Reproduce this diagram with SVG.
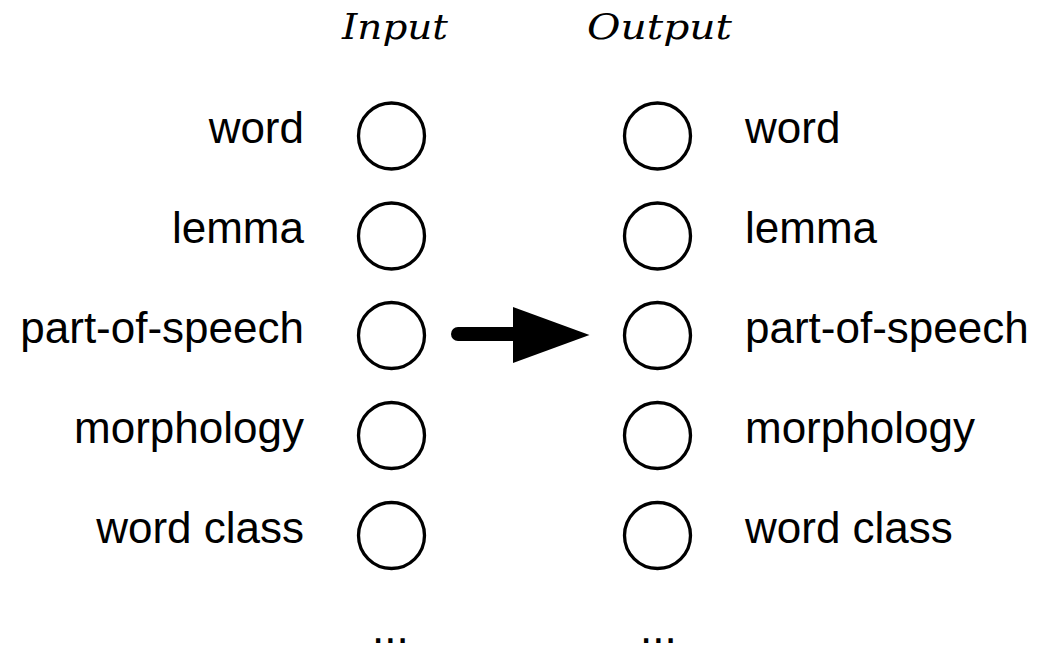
<svg xmlns="http://www.w3.org/2000/svg" width="1037" height="647" viewBox="0 0 1037 647">
<style>
.node{fill:#fff;stroke:#000;stroke-width:3.3}
.lbl{font-family:"Liberation Sans",Arial,sans-serif;font-size:44px;fill:#000}
.l{text-anchor:end}
.r{text-anchor:start}
.hdr{font-family:"DejaVu Serif","Liberation Serif",serif;font-style:italic;font-size:36px;fill:#000}
</style>
<rect width="1037" height="647" fill="#fff"/>
<text class="hdr" x="342" y="39" textLength="106" lengthAdjust="spacingAndGlyphs">Input</text>
<text class="hdr" x="587" y="39" textLength="145" lengthAdjust="spacingAndGlyphs">Output</text>
<g id="in-word"><text class="lbl l" x="304" y="143">word</text><circle class="node" cx="391.5" cy="136" r="33"/></g>
<g id="in-lemma"><text class="lbl l" x="304" y="243">lemma</text><circle class="node" cx="391.5" cy="236" r="33"/></g>
<g id="in-pos"><text class="lbl l" x="304" y="343">part-of-speech</text><circle class="node" cx="391.5" cy="335.5" r="33"/></g>
<g id="in-morph"><text class="lbl l" x="304" y="443">morphology</text><circle class="node" cx="391.5" cy="435.5" r="33"/></g>
<g id="in-wc"><text class="lbl l" x="304" y="543">word class</text><circle class="node" cx="391.5" cy="535.5" r="33"/></g>
<g id="out-word"><circle class="node" cx="657.5" cy="136" r="33"/><text class="lbl r" x="745" y="143">word</text></g>
<g id="out-lemma"><circle class="node" cx="657.5" cy="236" r="33"/><text class="lbl r" x="745" y="243">lemma</text></g>
<g id="out-pos"><circle class="node" cx="657.5" cy="335.5" r="33"/><text class="lbl r" x="745" y="343">part-of-speech</text></g>
<g id="out-morph"><circle class="node" cx="657.5" cy="435.5" r="33"/><text class="lbl r" x="745" y="443">morphology</text></g>
<g id="out-wc"><circle class="node" cx="657.5" cy="535.5" r="33"/><text class="lbl r" x="745" y="543">word class</text></g>
<text class="lbl" x="372" y="643">...</text>
<text class="lbl" x="640" y="643">...</text>
<g id="connectors">
<line x1="458" y1="334" x2="516" y2="334" stroke="#000" stroke-width="14" stroke-linecap="round"/>
<polygon points="513,307 589.5,335 513,363" fill="#000"/>
</g>
</svg>
